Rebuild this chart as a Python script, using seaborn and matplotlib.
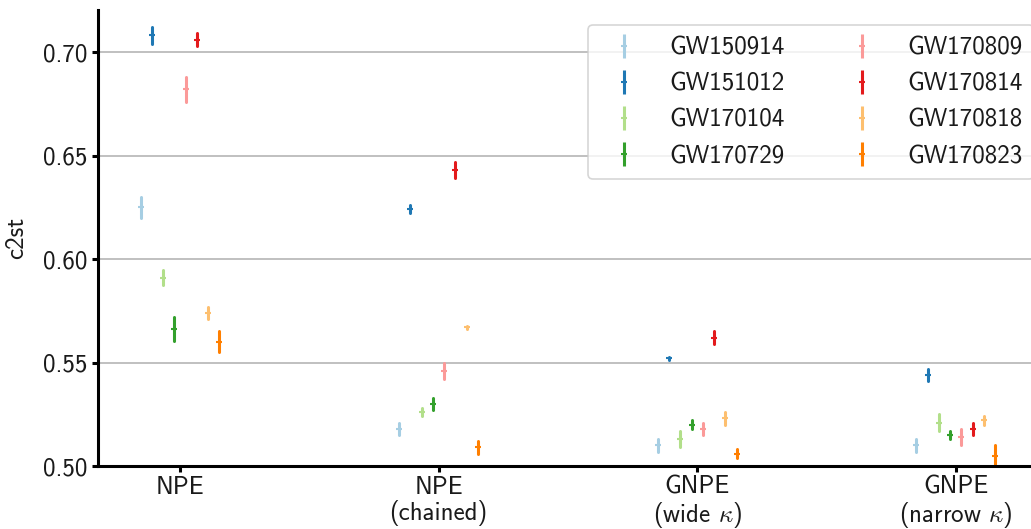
import numpy as np
import pandas as pd
import matplotlib
matplotlib.use("Agg")
import matplotlib.pyplot as plt
from matplotlib.lines import Line2D
import seaborn as sns

# Methods (x categories) and events (hue levels)
methods = ["NPE", "NPE\n(chained)", "GNPE\n(wide $\\kappa$)", "GNPE\n(narrow $\\kappa$)"]
events = ["GW150914", "GW151012", "GW170104", "GW170729",
          "GW170809", "GW170814", "GW170818", "GW170823"]

# c2st scores per method, one entry per event (same order as `events`)
c2st_npe      = [0.625, 0.708, 0.591, 0.566, 0.682, 0.706, 0.574, 0.560]
c2st_chained  = [0.518, 0.624, 0.526, 0.530, 0.546, 0.643, 0.567, 0.509]
c2st_gnpe_w   = [0.510, 0.552, 0.513, 0.520, 0.518, 0.562, 0.523, 0.506]
c2st_gnpe_n   = [0.510, 0.544, 0.521, 0.515, 0.514, 0.518, 0.522, 0.505]

# half-widths of the uncertainty intervals
err_npe       = [0.005, 0.004, 0.0037, 0.0058, 0.006, 0.003, 0.003, 0.005]
err_chained   = [0.003, 0.002, 0.002, 0.003, 0.004, 0.004, 0.0008, 0.003]
err_gnpe_w    = [0.003, 0.0008, 0.004, 0.002, 0.003, 0.003, 0.003, 0.002]
err_gnpe_n    = [0.003, 0.003, 0.004, 0.002, 0.004, 0.003, 0.002, 0.005]

centers = [c2st_npe, c2st_chained, c2st_gnpe_w, c2st_gnpe_n]
errors = [err_npe, err_chained, err_gnpe_w, err_gnpe_n]

# Long table: each (method, event) contributes the lower and upper ends of its
# interval; the mean gives the centre and the full range gives the error bar.
rows = []
for m, cs, es in zip(methods, centers, errors):
    for ev, c, e in zip(events, cs, es):
        rows.append({"method": m, "event": ev, "c2st": c - e})
        rows.append({"method": m, "event": ev, "c2st": c + e})
df = pd.DataFrame(rows)

sns.set_style("ticks")
plt.rcParams.update({
    "font.family": ["cmss10", "DejaVu Sans"],
    "mathtext.fontset": "cm",
    "axes.formatter.use_mathtext": True,
    "axes.edgecolor": "black",
    "text.color": "#1a1a1a",
    "axes.labelcolor": "#1a1a1a",
    "xtick.color": "black",
    "ytick.color": "black",
    "xtick.labelcolor": "#1a1a1a",
    "ytick.labelcolor": "#1a1a1a",
})

palette = sns.color_palette("Paired", len(events))

fig = plt.figure(figsize=(10.31, 5.29), dpi=100)
ax = fig.add_axes([98 / 1031, 63 / 529, 947 / 1031, 456 / 529])

sns.pointplot(
    data=df, x="method", y="c2st", hue="event",
    order=methods, hue_order=events, palette=palette,
    estimator="mean", errorbar=("pi", 100),
    dodge=0.305, linestyle="none", marker="_",
    markersize=5, markeredgewidth=1.5,
    err_kws={"linewidth": 2.2},
    legend=False, ax=ax,
)

ax.set_xlim(-0.317, 3.345)
ax.set_ylim(0.50, 0.7203)
ax.set_yticks([0.50, 0.55, 0.60, 0.65, 0.70])
ax.set_yticklabels([f"{v:.2f}" for v in [0.50, 0.55, 0.60, 0.65, 0.70]])
ax.set_xlabel("")
ax.set_ylabel("c2st", fontsize=18, labelpad=10)
ax.tick_params(axis="both", labelsize=18, width=2.2, length=4.5)
ax.tick_params(axis="x", pad=2.5)
for lbl in ax.get_xticklabels():
    lbl.set_linespacing(1.05)
ax.yaxis.grid(True, color="#b5b5b5", linewidth=1.2)
ax.set_axisbelow(True)
for side in ["left", "bottom"]:
    ax.spines[side].set_linewidth(2.2)
sns.despine(ax=ax)

handles = [
    (Line2D([], [], color=c, marker="|", markersize=17, markeredgewidth=2.2, linestyle="none"),
     Line2D([], [], color=c, marker="_", markersize=5, markeredgewidth=1.5, linestyle="none"))
    for c in palette
]
leg = ax.legend(
    handles, events, ncol=2, loc="upper left",
    bbox_to_anchor=(588 / 1031, 1 - 25 / 529), bbox_transform=fig.transFigure,
    borderaxespad=0, borderpad=0.45, fontsize=18, handlelength=2.0,
    handletextpad=0.8, columnspacing=2.1, labelspacing=0.53,
    frameon=True, fancybox=True,
)
leg.get_frame().set_edgecolor("#cccccc")
leg.get_frame().set_linewidth(1.2)

fig.savefig("out.png", dpi=100)
